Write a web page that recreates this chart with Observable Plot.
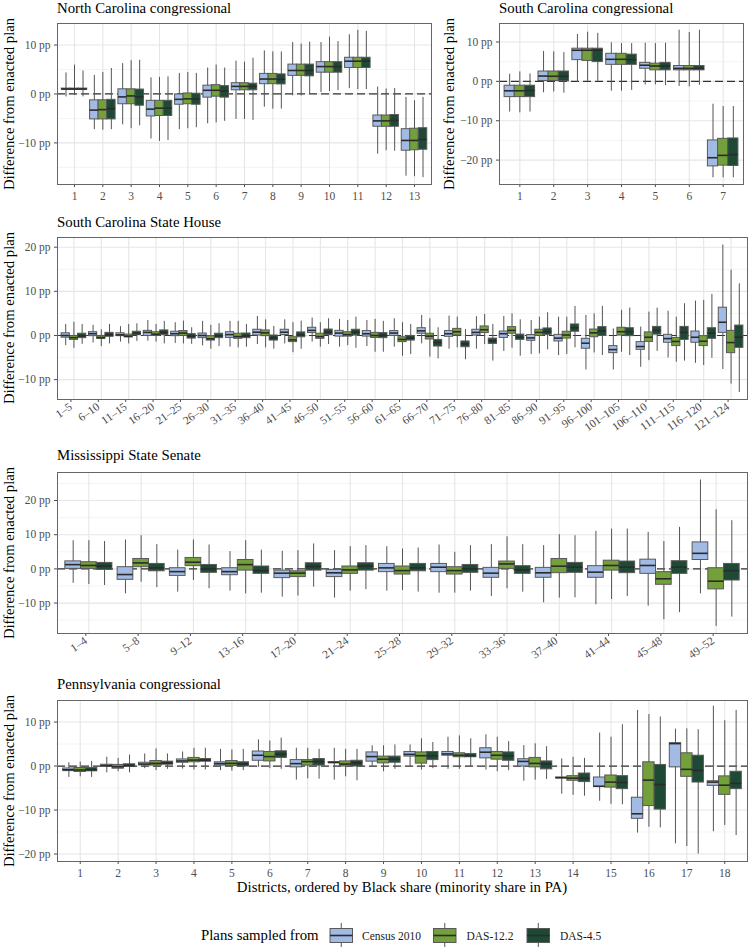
<!DOCTYPE html>
<html><head><meta charset="utf-8">
<script src="https://cdn.jsdelivr.net/npm/d3@7"></script>
<script src="https://cdn.jsdelivr.net/npm/@observablehq/plot@0.6"></script>
<style>
body{margin:0;background:#fff;}
#chart{position:relative;width:750px;height:949px;font-family:"Liberation Serif","Times New Roman",serif;overflow:hidden;background:#fff;}
.ttl{position:absolute;font-size:14.8px;color:#000;white-space:nowrap;line-height:14px;}
.ylab{position:absolute;font-size:14.7px;color:#000;white-space:nowrap;line-height:14px;transform:translate(-50%,-50%) rotate(-90deg);}
.pl{position:absolute;}
</style></head><body><div id="chart"></div>
<script>
// ---- series / legend ----
const seriesNames = ["Census 2010", "DAS-12.2", "DAS-4.5"];
const seriesColors = ["#a2bbe4", "#73a03b", "#1e4934"];

// ---- data: each entry [lower whisker, q1, median, q3, upper whisker] (pp) ----
// North Carolina congressional
const ncCats = ["1","2","3","4","5","6","7","8","9","10","11","12","13"];
const ncCensus = [[-0.6,0.9,1.0,1.1,4.3],[-7.3,-5.2,-3.3,-1.3,3.8],[-6.3,-2.1,-0.6,0.95,6.2],[-9.2,-4.6,-3.1,-1.4,3.3],[-7.3,-2.2,-1.1,-0.1,4.2],[-6.1,-0.75,0.75,1.7,5.3],[-5.2,0.75,1.55,2.2,6.7],[-2.7,2.0,3.05,4.1,8.8],[-0.4,3.7,4.8,6.0,10.5],[0.3,4.35,5.6,6.5,10.5],[1.1,5.3,6.7,7.4,12.1],[-12.3,-6.7,-5.5,-4.4,1.4],[-16.8,-11.6,-9.5,-7.2,-0.7]];
const ncDas122 = [[-0.3,0.9,1.0,1.1,5.9],[-7.4,-5.2,-3.2,-1.3,4.4],[-7.1,-2.1,-0.4,0.95,6.8],[-9.7,-4.5,-2.9,-1.4,3.4],[-7.1,-2.1,-1.0,0.1,4.4],[-5.9,-0.55,0.75,1.8,5.9],[-5.2,0.75,1.55,2.2,6.5],[-3.1,2.0,3.05,4.1,8.6],[-0.4,3.7,4.8,6.0,10.2],[0.5,4.35,5.6,6.5,11.6],[0.9,5.3,6.7,7.4,13.0],[-11.6,-6.7,-5.5,-4.4,1.0],[-16.9,-11.5,-9.5,-7.1,-1.4]];
const ncDas45 = [[-0.6,0.9,1.0,1.1,4.7],[-7.3,-5.2,-3.0,-1.2,5.2],[-6.5,-2.4,-0.6,0.9,6.9],[-9.5,-4.5,-2.9,-1.4,3.5],[-6.9,-2.2,-1.0,0.05,4.2],[-5.6,-0.75,0.6,1.6,5.3],[-5.4,0.75,1.55,2.1,7.3],[-3.1,1.95,3.0,4.0,8.6],[-0.1,3.6,4.8,6.0,10.6],[0.7,4.35,5.6,6.5,10.7],[0.9,5.3,6.7,7.4,12.8],[-11.7,-6.7,-5.4,-4.3,1.1],[-17.1,-11.4,-9.3,-7.0,-0.7]];

// South Carolina congressional
const scCats = ["1","2","3","4","5","6","7"];
const scCensus = [[-7.8,-4.0,-2.4,-1.1,1.8],[-2.9,0.1,1.35,2.5,7.6],[-0.3,5.4,7.9,8.3,11.9],[-2.5,4.2,5.6,7.0,9.8],[-0.9,3.2,4.1,4.7,9.7],[-1.3,2.8,3.3,3.9,13.0],[-24.5,-21.6,-19.4,-15.0,-5.8]];
const scDas122 = [[-8.0,-4.0,-2.4,-1.1,2.4],[-2.7,0.1,1.3,2.5,7.5],[0.0,5.2,7.9,8.3,12.5],[-2.5,4.2,5.6,7.0,9.6],[-0.9,2.8,3.9,4.5,9.6],[-1.4,2.8,3.3,3.9,12.4],[-24.5,-21.4,-18.8,-14.6,-6.4]];
const scDas45 = [[-7.8,-4.0,-2.3,-1.1,1.9],[-3.0,0.0,1.3,2.5,7.3],[0.0,4.9,7.9,8.3,12.2],[-2.3,4.2,5.5,6.8,9.6],[-1.1,2.8,3.9,4.7,9.7],[-1.0,2.8,3.3,3.9,13.0],[-24.5,-21.5,-18.6,-14.5,-6.4]];

// South Carolina State House
const shCats = ["1–5","6–10","11–15","16–20","21–25","26–30","31–35","36–40","41–45","46–50","51–55","56–60","61–65","66–70","71–75","76–80","81–85","86–90","91–95","96–100","101–105","106–110","111–115","116–120","121–124"];
const shCensus = [[-2.3,-0.5,0,0.5,2.5],[-1.7,-0.15,0.4,0.75,2.3],[-1.5,-0.15,0.15,0.5,2.0],[-1.3,-0.1,0.7,1.05,3.4],[-1.8,-0.15,0.4,0.85,2.9],[-2.35,-0.6,0,0.45,3.2],[-2.65,-0.55,0.2,0.75,3.2],[-2.05,0,0.75,1.3,4.3],[-1.9,0.1,0.75,1.3,3.55],[-1.5,0.55,1.15,1.75,3.95],[-2.65,-0.25,0.55,1.05,3.65],[-2.5,-0.25,0.4,1.0,3.4],[-2.65,-0.1,0.55,1.0,3.8],[-1.9,0.4,1.05,1.65,4.55],[-3.1,-0.3,0.4,1.0,4.4],[-3.1,0,0.7,1.3,4.25],[-3.6,-0.55,0.4,0.9,4.3],[-4.3,-1.2,-0.55,0.1,3.4],[-4.55,-1.35,-0.6,0.15,4.15],[-7.8,-3.0,-1.75,-0.75,4.55],[-7.8,-4.0,-3.2,-2.4,1.5],[-7.2,-3.25,-2.5,-1.5,1.9],[-5.1,-1.65,-0.7,0.15,5.5],[-6.3,-1.65,-0.4,0.9,7.8],[-7.7,0.6,3.0,6.3,20.5]];
const shDas122 = [[-2.9,-1.0,-0.5,-0.1,3.0],[-2.5,-0.8,-0.45,-0.1,1.3],[-1.9,-0.45,-0.15,0.2,2.5],[-1.5,-0.1,0.3,0.75,2.5],[-1.9,-0.1,0.55,1.0,3.25],[-3.1,-1.15,-0.75,-0.15,2.3],[-2.8,-0.75,-0.25,0.4,3.2],[-2.8,-0.15,0.6,1.15,3.55],[-3.9,-1.5,-1.0,-0.4,2.9],[-2.65,-0.75,-0.25,0.4,2.9],[-2.3,-0.25,0.2,0.75,3.4],[-3.8,-0.55,0,0.6,3.65],[-4.7,-1.5,-0.9,-0.4,2.9],[-4.9,-0.9,-0.15,0.4,3.8],[-2.8,0,0.85,1.5,4.15],[-2.05,0.55,1.3,2.05,4.75],[-2.9,0.4,1.15,1.9,4.9],[-4.15,-0.1,0.7,1.3,4.15],[-4.3,-0.7,0.1,0.85,4.15],[-3.95,-0.4,0.6,1.35,4.9],[-3.8,0,0.85,1.75,5.7],[-5.7,-1.45,-0.4,0.7,5.3],[-6.05,-2.4,-1.35,-0.55,4.15],[-6.8,-2.4,-1.3,-0.15,7.95],[-11.0,-4.0,-1.6,1.05,14.8]];
const shDas45 = [[-2.0,-0.6,-0.1,0.4,2.5],[-1.9,-0.3,0.15,0.6,2.5],[-1.35,0.1,0.45,0.85,2.65],[-1.9,0.1,0.7,1.15,3.2],[-2.0,-0.7,-0.15,0.3,1.75],[-2.5,-0.6,-0.1,0.4,2.65],[-2.65,-0.6,-0.1,0.45,2.5],[-3.1,-1.15,-0.6,0,2.05],[-3.1,-0.4,0.15,0.7,3.25],[-2.05,0.1,0.75,1.35,3.8],[-2.9,0,0.75,1.3,4.15],[-3.8,-0.6,0,0.55,3.2],[-4.3,-1.15,-0.6,-0.1,2.5],[-5.3,-2.5,-1.6,-1.0,1.75],[-5.5,-2.65,-1.9,-1.35,1.35],[-5.8,-1.9,-1.2,-0.7,2.5],[-4.7,-1.0,-0.4,0.2,3.55],[-3.25,0.15,0.9,1.6,5.15],[-2.8,0.85,1.75,2.5,6.6],[-4.55,-0.1,1.0,1.9,6.6],[-4.55,-0.15,0.85,1.65,6.2],[-3.6,0.2,1.15,1.95,6.2],[-5.8,-1.0,0.7,1.95,7.2],[-5.15,-0.75,0.55,1.65,9.3],[-12.9,-2.8,-0.4,2.25,11.7]];

// Mississippi State Senate
const msCats = ["1–4","5–8","9–12","13–16","17–20","21–24","25–28","29–32","33–36","37–40","41–44","45–48","49–52"];
const msCensus = [[-4.2,0,1.25,2.2,8.25],[-7.3,-3.2,-1.65,0.5,8.45],[-6.8,-2.05,-0.8,0.2,5.5],[-6.5,-1.85,-0.8,0.2,5.05],[-8.25,-2.7,-1.25,-0.5,5.15],[-8.55,-2.4,-1.15,-0.3,5.35],[-6.5,-0.95,0.3,1.45,6.5],[-7.1,-0.95,0.5,1.45,7.0],[-8.05,-2.6,-1.25,0.3,7.1],[-9.9,-2.6,-1.15,0.3,6.8],[-10.5,-2.6,-0.95,0.8,11.0],[-10.9,-1.45,1.0,2.7,10.7],[-7.3,2.6,4.55,7.75,26.0]];
const msDas122 = [[-4.55,0,1.0,1.95,8.25],[-3.9,0.5,1.75,2.9,9.7],[-3.4,0.8,1.95,3.2,8.45],[-7.3,-0.5,1.25,2.6,8.25],[-7.95,-2.4,-1.25,-0.7,5.35],[-6.5,-1.45,-0.3,0.7,6.5],[-6.3,-1.65,-0.5,0.7,5.8],[-7.1,-1.65,-0.5,0.5,4.85],[-5.8,0,1.45,2.15,9.4],[-8.55,-1.25,0.8,2.9,10.0],[-8.95,-0.5,1.0,2.4,11.65],[-14.85,-4.65,-2.9,-0.95,8.0],[-16.8,-6.0,-3.6,0.2,17.3]];
const msDas45 = [[-4.85,-0.3,0.8,1.75,8.0],[-5.5,-0.7,0.3,1.45,7.1],[-5.8,-1.15,0,1.15,7.0],[-7.1,-1.45,-0.5,0.7,5.5],[-5.35,-0.5,0.7,1.65,7.3],[-6.1,-0.5,0.8,1.65,6.8],[-6.8,-0.7,0.3,1.45,6.1],[-6.5,-1.15,0,1.15,6.8],[-6.8,-1.45,-0.3,0.8,7.1],[-8.45,-1.15,0.5,1.75,9.7],[-8.05,-1.25,0.5,2.15,11.65],[-12.8,-1.45,0.5,2.25,12.15],[-14.1,-3.4,-0.5,1.45,14.1]];

// Pennsylvania congressional
const paCats = ["1","2","3","4","5","6","7","8","9","10","11","12","13","14","15","16","17","18"];
const paCensus = [[-2.6,-1.15,-0.85,-0.55,0.75],[-1.55,-0.15,0.1,0.3,2.0],[-0.6,0.15,0.45,0.75,2.75],[-0.7,0.75,1.15,1.5,3.2],[-1.05,0.1,0.55,0.85,3.8],[-0.3,1.2,2.45,3.3,5.95],[-3.2,-0.3,0.55,1.35,4.05],[-3.2,0.7,0.8,0.9,4.05],[-0.15,1.0,2.15,3.1,4.6],[-0.3,2.15,2.65,3.2,4.8],[-0.75,2.35,2.75,3.2,6.55],[-0.9,1.75,3.15,4.05,7.1],[-3.45,-0.1,1.05,1.55,4.65],[-6.4,-2.8,-2.65,-2.6,1.6],[-8.0,-4.75,-4.6,-2.6,7.5],[-15.25,-12.0,-10.85,-7.2,12.65],[-17.7,-0.3,5.1,5.2,8.4],[-14.95,-4.5,-3.65,-3.45,13.6]];
const paDas122 = [[-2.45,-1.35,-0.9,-0.45,0.9],[-1.3,-0.6,-0.15,0.25,1.75],[-1.05,0.1,0.6,1.15,3.9],[-0.9,0.85,1.35,1.85,4.05],[-1.15,0,0.6,1.15,3.65],[-0.6,1.05,2.15,3.2,5.7],[-2.9,0.1,1.0,1.35,4.05],[-2.45,-0.1,0.45,1.05,3.8],[-1.3,0.6,1.55,2.15,4.6],[-0.9,0.55,2.35,3.1,6.2],[-0.75,2.0,2.45,2.9,6.85],[-1.3,1.45,2.45,3.2,6.55],[-3.2,-0.3,0.6,1.85,5.05],[-6.65,-3.35,-2.75,-2.3,2.0],[-8.7,-4.9,-3.65,-2.15,6.55],[-13.9,-9.1,-3.2,0.85,11.7],[-18.3,-2.45,-0.75,2.9,8.45],[-13.5,-6.55,-4.35,-2.35,10.3]];
const paDas45 = [[-2.6,-1.2,-0.85,-0.45,1.05],[-1.55,-0.15,0.1,0.4,2.5],[-0.75,0.3,0.7,1.0,2.75],[-0.9,1.0,1.3,1.6,4.05],[-1.05,-0.1,0.45,0.85,3.8],[-0.75,1.85,2.65,3.35,6.35],[-3.0,0.1,1.0,1.6,3.8],[-3.35,-0.1,0.75,1.2,3.8],[-0.75,0.75,1.55,2.15,4.8],[-0.6,1.35,2.35,3.2,5.35],[-0.3,2.0,2.35,2.75,6.2],[-1.05,1.2,2.3,3.1,5.55],[-3.05,-0.75,0.45,1.05,4.4],[-6.85,-3.65,-2.75,-1.7,1.75],[-8.8,-5.25,-3.75,-2.3,9.4],[-14.05,-9.9,-4.2,0.25,11.15],[-20.0,-3.75,-1.0,2.35,8.25],[-15.8,-5.25,-3.95,-1.3,12.65]];

// ---- drawing ----
const chart = document.getElementById("chart");
const dodge = [-0.3, 0, 0.3];
const half = 0.15;
const fmt = d => (d < 0 ? "\u2212" + Math.abs(d) : String(d)) + " pp";

function rows(series) {
  const out = [];
  series.forEach((arr, s) => arr.forEach((v, i) => out.push({g: i + 1, s: seriesNames[s], si: s, lo: v[0], q1: v[1], med: v[2], q3: v[3], hi: v[4]})));
  return out;
}
const xc = d => d.g + dodge[d.si];

function panel(o) {
  const [L, T, R, B] = o.frame;
  const n = o.cats.length;
  const data = rows(o.series);
  const top = 6;
  const ticksX = d3.range(1, n + 1);
  const p = Plot.plot({
    width: o.svgWidth, height: (B - T) + top + o.bottom,
    marginLeft: L - o.svgLeft, marginRight: o.svgLeft + o.svgWidth - R,
    marginTop: top, marginBottom: o.bottom,
    style: {background: "transparent", fontFamily: "Liberation Serif, 'Times New Roman', serif", fontSize: "11.5px", color: "#4d4d4d", overflow: "visible"},
    x: {type: "linear", domain: [0.4, n + 0.6]},
    y: {domain: o.yDomain},
    color: {domain: seriesNames, range: seriesColors},
    marks: [
      Plot.gridY(o.yMinor, {stroke: "#ececec", strokeOpacity: 1, strokeWidth: 0.6}),
      Plot.gridY(o.yTicks, {stroke: "#e6e6e6", strokeOpacity: 1, strokeWidth: 1.1}),
      Plot.gridX(ticksX, {stroke: "#e6e6e6", strokeOpacity: 1, strokeWidth: 1.1}),
      Plot.ruleY([0], {stroke: "#333", strokeWidth: 1.2, strokeDasharray: "8,4"}),
      Plot.ruleX(data, {x: xc, y1: "lo", y2: "hi", stroke: "#555", strokeWidth: 1}),
      Plot.rect(data, {x1: d => xc(d) - half, x2: d => xc(d) + half, y1: "q1", y2: "q3", fill: "s", stroke: "#595959", strokeWidth: 1}),
      Plot.ruleY(data, {y: "med", x1: d => xc(d) - half, x2: d => xc(d) + half, stroke: "#2b2b2b", strokeWidth: 1.6}),
      Plot.axisY({ticks: o.yTicks, tickFormat: fmt, tickSize: 3, tickPadding: 4, label: null}),
      Plot.axisX({ticks: ticksX, tickFormat: i => o.cats[i - 1], tickSize: 3, tickPadding: o.rotate ? 3 : 4, tickRotate: o.rotate || 0, dx: o.rotate ? -3 : 0, label: null}),
      Plot.frame({stroke: "#666", strokeWidth: 1})
    ]
  });
  p.classList.add("pl");
  p.style.left = o.svgLeft + "px";
  p.style.top = (T - top) + "px";
  chart.appendChild(p);
  const t = document.createElement("div");
  t.className = "ttl"; t.textContent = o.title;
  t.style.left = L + "px"; t.style.top = o.titleTop + "px";
  chart.appendChild(t);
  const y = document.createElement("div");
  y.className = "ylab"; y.textContent = "Difference from enacted plan";
  y.style.left = o.ylabX + "px"; y.style.top = ((T + B) / 2) + "px";
  chart.appendChild(y);
}

panel({title: "North Carolina congressional", cats: ncCats, series: [ncCensus, ncDas122, ncDas45],
  frame: [57, 23, 431, 184], svgLeft: 0, svgWidth: 440, bottom: 20, titleTop: 0.5, ylabX: 9,
  yDomain: [-18.5, 14.4], yTicks: [-10, 0, 10], yMinor: [-15, -5, 5]});
panel({title: "South Carolina congressional", cats: scCats, series: [scCensus, scDas122, scDas45],
  frame: [499, 23, 743, 184], svgLeft: 440, svgWidth: 310, bottom: 20, titleTop: 0.5, ylabX: 449,
  yDomain: [-26.2, 14.7], yTicks: [-20, -10, 0, 10], yMinor: [-25, -15, -5, 5]});
panel({title: "South Carolina State House", cats: shCats, series: [shCensus, shDas122, shDas45],
  frame: [57, 237, 747, 399], svgLeft: 0, svgWidth: 750, bottom: 40, rotate: -35, titleTop: 215, ylabX: 9,
  yDomain: [-14.5, 22.2], yTicks: [-10, 0, 10, 20], yMinor: [-5, 5, 15]});
panel({title: "Mississippi State Senate", cats: msCats, series: [msCensus, msDas122, msDas45],
  frame: [57, 472, 747, 633], svgLeft: 0, svgWidth: 750, bottom: 40, rotate: -35, titleTop: 447.6, ylabX: 9,
  yDomain: [-18.9, 28.2], yTicks: [-10, 0, 10, 20], yMinor: [-15, -5, 5, 15, 25]});
panel({title: "Pennsylvania congressional", cats: paCats, series: [paCensus, paDas122, paDas45],
  frame: [57, 700, 747, 861], svgLeft: 0, svgWidth: 750, bottom: 20, titleTop: 677, ylabX: 9,
  yDomain: [-21.7, 14.9], yTicks: [-20, -10, 0, 10], yMinor: [-15, -5, 5]});

// x axis title
const xt = document.createElement("div");
xt.className = "ttl"; xt.textContent = "Districts, ordered by Black share (minority share in PA)";
xt.style.left = "402px"; xt.style.top = "880px"; xt.style.transform = "translateX(-50%)";
chart.appendChild(xt);

// legend
const lg = d3.select(chart).append("svg").attr("class", "pl").style("left", "0px").style("top", "915px")
  .attr("width", 750).attr("height", 34).style("font-family", "Liberation Serif, 'Times New Roman', serif");
lg.append("text").attr("x", 201).attr("y", 25).attr("font-size", 14.8).attr("fill", "#000").text("Plans sampled from");
const keyX = [330, 433.5, 527];
const labX = [362, 466.5, 560];
seriesNames.forEach((name, i) => {
  const cx = keyX[i] + 11.25;
  lg.append("line").attr("x1", cx).attr("x2", cx).attr("y1", 8).attr("y2", 32).attr("stroke", "#555");
  lg.append("rect").attr("x", keyX[i]).attr("y", 13.5).attr("width", 22.5).attr("height", 14)
    .attr("fill", seriesColors[i]).attr("stroke", "#595959");
  lg.append("line").attr("x1", keyX[i]).attr("x2", keyX[i] + 22.5).attr("y1", 20.5).attr("y2", 20.5).attr("stroke", "#2b2b2b").attr("stroke-width", 1.6);
  lg.append("text").attr("x", labX[i]).attr("y", 24.5).attr("font-size", 11.5).attr("fill", "#1a1a1a").text(name);
});
</script></body></html>
